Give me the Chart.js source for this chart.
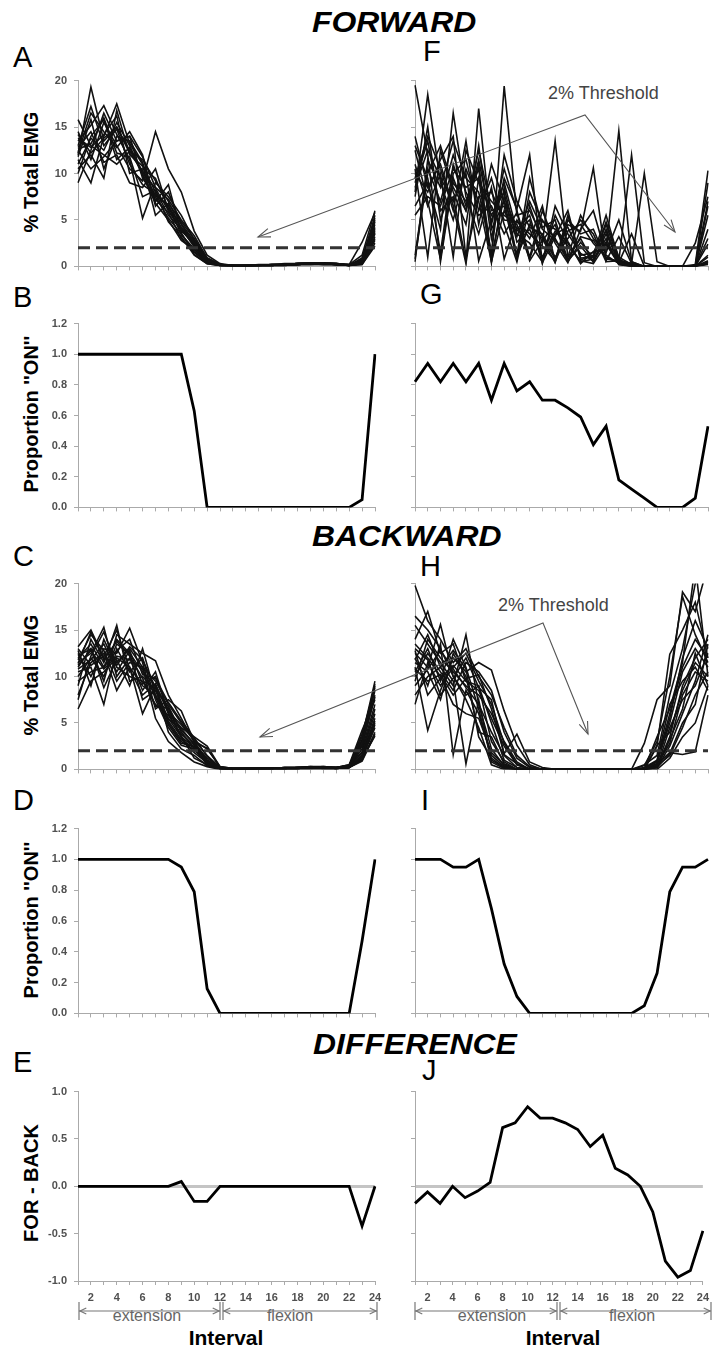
<!DOCTYPE html>
<html>
<head>
<meta charset="utf-8">
<script src="https://cdn.jsdelivr.net/npm/chart.js@4.4.1/dist/chart.umd.min.js"></script>
<style>
    body { margin: 0; background: #fff; }
    #fig { position: relative; width: 715px; height: 1351px; overflow: hidden; font-family: "Liberation Sans", Arial, sans-serif; color: #000; }
    canvas { position: absolute; }
    .sec { position: absolute; font-size: 29px; line-height: 29px; font-weight: bold; font-style: italic; transform: scaleX(1.1); transform-origin: left top; white-space: nowrap; }
    .lab { position: absolute; font-size: 29px; line-height: 29px; }
    .ytitle { position: absolute; width: 220px; text-align: center; font-size: 20px; line-height: 20px; font-weight: bold; transform: rotate(-90deg); white-space: nowrap; }
    .thr { position: absolute; font-size: 18px; line-height: 18px; color: #444; white-space: nowrap; }
    .phase { position: absolute; font-size: 16px; line-height: 16px; color: #666; transform: translateX(-50%); white-space: nowrap; }
    .xt { position: absolute; font-size: 21px; line-height: 21px; font-weight: bold; transform: translateX(-50%); }
    svg { position: absolute; left: 0; top: 0; }
</style>
</head>
<body>
<div id="fig">
    <div class="sec" style="left:312px;top:8px">FORWARD</div>
    <div class="sec" style="left:312px;top:522px">BACKWARD</div>
    <div class="sec" style="left:313px;top:1030px">DIFFERENCE</div>

    <div class="lab" style="left:13px;top:43px">A</div>
    <div class="lab" style="left:423px;top:37px">F</div>
    <div class="lab" style="left:13px;top:283px">B</div>
    <div class="lab" style="left:420px;top:280px">G</div>
    <div class="lab" style="left:13px;top:542px">C</div>
    <div class="lab" style="left:420px;top:552px">H</div>
    <div class="lab" style="left:13px;top:786px">D</div>
    <div class="lab" style="left:421px;top:786px">I</div>
    <div class="lab" style="left:13px;top:1048px">E</div>
    <div class="lab" style="left:422px;top:1056px">J</div>

    <div class="ytitle" style="left:-79px;top:162px">% Total EMG</div>
    <div class="ytitle" style="left:-79px;top:404px">Proportion ''ON''</div>
    <div class="ytitle" style="left:-79px;top:665px">% Total EMG</div>
    <div class="ytitle" style="left:-79px;top:910px">Proportion ''ON''</div>
    <div class="ytitle" style="left:-79px;top:1173px">FOR - BACK</div>

    <div class="thr" style="left:548px;top:84px">2% Threshold</div>
    <div class="thr" style="left:498px;top:596px">2% Threshold</div>

    <div class="phase" style="left:147px;top:1308px">extension</div>
    <div class="phase" style="left:290px;top:1308px">flexion</div>
    <div class="phase" style="left:492px;top:1308px">extension</div>
    <div class="phase" style="left:632px;top:1308px">flexion</div>
    <div class="xt" style="left:226px;top:1327px">Interval</div>
    <div class="xt" style="left:563px;top:1327px">Interval</div>
</div>

<script>
// ---- data ----
const INTERVALS = [1,2,3,4,5,6,7,8,9,10,11,12,13,14,15,16,17,18,19,20,21,22,23,24];
const THRESHOLD = 2;

// A: forward, left column, % total EMG per step cycle
const emgForwardA = [
    [12.0,19.3,13.5,15.0,12.5,10.2,8.4,6.0,4.2,2.6,0.6,0.2,0.1,0.1,0.1,0.2,0.2,0.3,0.3,0.3,0.2,0.1,0.6,4.2],
    [15.8,13.0,12.0,11.0,12.4,11.5,9.2,7.0,4.0,2.2,0.5,0.1,0.0,0.1,0.1,0.1,0.2,0.3,0.4,0.3,0.2,0.1,0.4,3.0],
    [9.0,12.5,16.5,13.5,14.0,9.5,7.5,5.2,3.5,1.6,0.4,0.1,0.1,0.0,0.1,0.1,0.2,0.2,0.3,0.2,0.2,0.1,0.3,5.5],
    [11.5,9.0,14.0,17.5,13.2,11.0,5.5,6.8,4.8,3.0,0.9,0.2,0.1,0.1,0.1,0.2,0.2,0.3,0.3,0.4,0.3,0.2,1.2,6.0],
    [12.8,14.5,11.2,12.0,9.0,8.5,10.5,6.0,3.8,2.5,0.7,0.1,0.1,0.1,0.1,0.1,0.2,0.2,0.3,0.3,0.2,0.1,0.5,3.5],
    [13.5,15.2,17.3,14.2,11.5,5.2,9.0,7.5,5.5,2.8,0.8,0.2,0.1,0.1,0.1,0.1,0.2,0.3,0.4,0.3,0.3,0.1,0.4,4.8],
    [10.5,12.0,9.5,16.8,12.0,10.8,8.0,4.8,3.2,1.2,0.3,0.1,0.0,0.0,0.1,0.1,0.1,0.2,0.2,0.2,0.2,0.1,0.2,2.5],
    [12.2,16.5,14.5,12.8,14.5,12.0,6.5,8.0,4.5,2.4,0.6,0.2,0.1,0.1,0.1,0.1,0.2,0.2,0.3,0.3,0.3,0.1,0.8,5.0],
    [14.5,11.5,15.5,13.0,10.5,9.2,14.5,10.5,8.0,3.8,1.2,0.3,0.1,0.1,0.1,0.2,0.3,0.3,0.4,0.4,0.3,0.2,2.6,5.8],
    [11.0,13.8,12.5,15.5,13.0,10.0,7.2,5.8,3.0,1.5,0.4,0.1,0.1,0.1,0.1,0.1,0.1,0.2,0.3,0.2,0.2,0.1,0.3,2.8],
    [13.0,17.2,13.0,14.8,11.0,8.8,7.8,6.5,4.2,2.1,0.5,0.1,0.1,0.1,0.1,0.2,0.2,0.2,0.3,0.3,0.2,0.1,0.5,4.0],
    [12.5,10.5,11.8,13.5,14.0,11.8,8.5,7.2,5.0,3.3,0.9,0.2,0.1,0.1,0.2,0.2,0.2,0.3,0.3,0.4,0.3,0.2,0.7,3.6],
    [10.0,14.0,15.8,11.5,12.8,9.8,6.8,5.0,2.8,1.8,0.4,0.1,0.0,0.1,0.1,0.1,0.1,0.2,0.2,0.2,0.2,0.1,0.2,2.2],
    [13.8,12.8,14.2,16.2,10.0,10.5,9.5,6.2,4.6,2.7,0.7,0.2,0.1,0.1,0.1,0.1,0.2,0.3,0.3,0.3,0.2,0.1,0.9,5.2],
    [11.8,15.8,10.5,14.0,13.5,11.2,7.0,8.8,3.6,1.3,0.3,0.1,0.1,0.0,0.1,0.1,0.1,0.2,0.2,0.3,0.2,0.1,0.3,3.2],
    [12.6,13.2,16.0,12.2,11.8,7.5,8.2,5.5,4.0,2.3,0.6,0.1,0.1,0.1,0.1,0.1,0.2,0.2,0.3,0.3,0.2,0.1,0.6,4.5],
    [14.2,12.2,13.8,15.0,12.2,10.3,7.6,6.6,3.4,1.9,0.5,0.2,0.1,0.1,0.1,0.1,0.2,0.2,0.3,0.3,0.2,0.1,0.4,3.8]
];

// F: forward, right column
const emgForwardF = [
    [19.5,12.0,0.5,9.5,6.0,11.0,1.0,7.5,4.0,5.5,0.8,3.5,4.2,1.2,1.5,3.8,0.5,0.0,0.0,0.0,0.0,0.0,0.2,10.3],
    [14.0,8.5,11.0,6.5,0.3,9.5,5.5,8.0,1.0,4.5,3.0,0.4,5.0,3.5,4.0,0.8,0.6,0.3,10.0,0.5,0.0,0.0,0.0,0.5],
    [1.2,10.5,7.0,12.0,8.0,5.5,6.5,3.5,5.8,0.6,2.8,4.5,0.5,2.6,0.9,4.8,1.0,0.2,0.0,0.0,0.0,0.0,0.0,6.5],
    [8.0,18.5,9.0,5.0,10.5,7.0,0.5,6.0,3.2,7.0,4.0,2.8,1.0,5.5,3.0,1.5,5.0,0.5,0.0,0.0,0.0,0.0,0.0,1.0],
    [10.5,1.0,12.5,8.0,4.5,13.0,3.0,9.5,6.2,12.0,0.4,3.2,6.0,0.7,1.2,5.5,0.8,0.0,0.0,0.0,0.0,0.0,0.0,4.0],
    [6.5,9.0,4.0,16.5,7.5,3.5,8.5,0.8,5.0,3.0,6.5,0.5,3.8,4.5,2.5,1.0,0.4,3.5,0.0,0.0,0.0,0.0,0.0,0.3],
    [12.5,7.0,0.8,10.0,11.5,6.0,9.5,4.5,0.5,6.5,2.5,13.5,1.0,3.0,0.4,4.0,0.3,0.0,0.0,0.0,0.0,0.0,2.5,7.5],
    [9.0,13.5,6.0,7.5,0.6,17.0,4.0,7.0,3.5,2.5,0.5,5.5,2.7,0.3,1.6,1.8,14.6,0.5,0.0,0.0,0.0,0.0,0.0,0.5],
    [0.5,11.5,8.5,13.5,9.5,8.0,1.5,12.0,7.0,4.2,3.5,1.0,3.0,5.0,3.5,0.5,0.6,12.0,0.4,0.0,0.0,0.0,0.0,5.5],
    [11.0,6.5,10.0,1.0,12.5,9.0,7.0,5.5,4.5,0.8,5.0,3.0,0.6,2.2,0.5,3.0,0.2,0.0,0.0,0.0,0.0,0.0,0.0,0.4],
    [7.5,15.0,5.0,9.0,7.0,10.5,0.7,19.4,5.5,6.0,3.2,0.8,4.5,3.8,10.6,0.6,3.2,0.3,0.0,0.0,0.0,0.0,0.0,9.0],
    [13.0,9.5,1.5,11.0,6.5,12.5,6.0,6.5,0.8,8.0,4.8,4.0,2.5,0.5,0.8,2.6,0.4,0.0,0.0,0.0,0.0,0.0,0.0,1.2],
    [8.5,12.5,9.5,7.0,10.0,0.6,5.0,9.0,3.8,5.0,0.3,6.5,3.5,1.4,0.6,3.5,0.5,0.2,0.0,0.0,0.0,0.0,0.0,3.0],
    [0.8,10.0,13.0,8.5,6.0,11.5,4.5,10.5,6.0,1.0,6.0,2.5,0.4,4.0,6.0,1.2,0.3,0.0,0.0,0.0,0.0,0.0,0.0,0.6],
    [10.0,8.0,11.5,14.0,0.9,7.5,8.0,5.0,4.8,3.5,2.2,0.6,5.5,0.9,1.0,4.5,0.6,0.3,0.0,0.0,0.0,0.0,0.0,2.4],
    [5.5,7.5,6.5,10.5,8.5,9.5,0.4,8.5,2.6,4.0,1.0,3.8,2.2,0.6,0.3,2.4,0.2,0.0,0.0,0.0,0.0,0.0,0.0,0.2],
    [9.5,14.0,10.5,6.0,13.5,4.5,11.0,7.0,1.2,9.5,4.2,5.0,0.7,3.2,2.8,0.9,0.5,0.2,0.0,0.0,0.0,0.0,0.0,7.0]
];

// C: backward, left column
const emgBackwardC = [
    [12.0,13.5,11.0,14.0,12.5,10.5,9.0,6.5,4.2,2.8,1.2,0.2,0.1,0.1,0.1,0.1,0.1,0.2,0.2,0.2,0.2,0.3,2.8,8.5],
    [6.5,9.5,10.5,12.0,11.0,9.0,8.0,5.5,3.5,2.4,0.8,0.1,0.0,0.1,0.1,0.1,0.1,0.1,0.2,0.1,0.1,0.2,1.5,5.0],
    [13.2,15.0,12.0,11.5,13.0,11.0,9.5,7.0,5.0,3.2,1.5,0.2,0.1,0.1,0.1,0.1,0.2,0.2,0.3,0.2,0.2,0.4,3.5,9.5],
    [10.5,11.0,7.0,13.0,10.5,12.0,7.5,4.5,2.6,2.2,0.6,0.1,0.0,0.0,0.1,0.1,0.1,0.1,0.1,0.1,0.1,0.2,1.2,4.5],
    [11.5,12.5,15.3,10.0,12.0,8.5,10.5,6.0,4.5,3.5,2.5,0.3,0.1,0.1,0.1,0.1,0.2,0.2,0.2,0.3,0.2,0.5,4.2,7.5],
    [9.0,14.0,11.5,15.5,9.5,10.0,8.5,5.0,3.0,2.1,0.7,0.1,0.1,0.1,0.1,0.1,0.1,0.1,0.2,0.2,0.1,0.3,1.8,6.0],
    [12.5,10.0,13.0,12.5,15.2,11.5,6.5,7.5,6.3,3.0,1.0,0.2,0.1,0.1,0.1,0.1,0.1,0.2,0.2,0.2,0.2,0.3,2.5,8.0],
    [8.0,11.5,12.5,8.5,11.0,6.0,9.0,4.0,2.2,1.5,0.4,0.1,0.0,0.0,0.1,0.1,0.1,0.1,0.1,0.1,0.1,0.2,0.9,3.8],
    [11.0,13.0,9.5,14.5,13.5,12.5,11.7,8.0,5.5,2.9,2.3,0.2,0.1,0.1,0.1,0.1,0.2,0.2,0.2,0.2,0.2,0.4,3.0,9.0],
    [12.8,9.0,14.0,11.0,10.0,9.5,7.0,5.8,3.8,2.6,0.9,0.1,0.1,0.1,0.1,0.1,0.1,0.1,0.2,0.2,0.1,0.2,1.6,5.5],
    [10.0,12.0,10.0,13.5,12.5,7.5,8.5,6.8,4.0,2.3,0.5,0.1,0.0,0.1,0.1,0.1,0.1,0.1,0.2,0.1,0.1,0.3,2.2,7.0],
    [11.8,14.5,12.8,9.5,11.5,11.0,5.5,3.0,1.8,0.8,0.3,0.0,0.0,0.0,0.0,0.1,0.1,0.1,0.1,0.1,0.1,0.2,1.0,4.0],
    [9.5,10.5,11.0,12.8,14.0,10.2,9.8,7.2,5.2,3.4,1.4,0.2,0.1,0.1,0.1,0.1,0.2,0.2,0.3,0.3,0.2,0.4,3.8,8.8],
    [12.2,13.0,8.8,11.8,9.0,13.0,8.0,5.2,3.2,2.3,0.6,0.1,0.1,0.1,0.1,0.1,0.1,0.1,0.1,0.2,0.1,0.2,1.4,5.2],
    [10.8,11.8,13.5,10.5,12.8,9.2,10.0,6.2,4.8,3.1,2.2,0.3,0.1,0.1,0.1,0.1,0.1,0.2,0.2,0.2,0.2,0.5,2.6,7.8],
    [11.2,12.8,10.8,12.2,11.8,10.8,7.8,4.8,2.8,2.5,0.8,0.1,0.0,0.1,0.1,0.1,0.1,0.1,0.2,0.2,0.1,0.2,1.3,4.8],
    [13.0,11.2,12.2,15.0,10.8,8.0,9.2,6.0,3.6,1.2,0.5,0.1,0.1,0.1,0.1,0.1,0.1,0.1,0.2,0.2,0.1,0.3,1.9,6.5],
    [7.5,12.2,14.8,11.2,13.2,11.8,8.8,5.4,4.4,2.7,1.0,0.2,0.1,0.1,0.1,0.1,0.1,0.2,0.2,0.2,0.2,0.4,3.2,9.2],
    [11.4,14.8,11.8,13.8,12.2,9.8,6.8,6.6,3.4,1.8,0.7,0.1,0.1,0.1,0.1,0.1,0.1,0.1,0.2,0.2,0.1,0.2,1.1,3.6]
];

// H: backward, right column
const emgBackwardH = [
    [19.8,16.0,14.0,11.5,13.0,10.0,8.0,4.5,1.5,0.3,0,0,0,0,0,0,0,0,0.5,1.5,8.0,13.0,20.0,25.0],
    [14.0,17.0,12.5,13.5,9.5,8.5,5.5,2.5,0.5,0,0,0,0,0,0,0,0,0,0,2.5,12.4,15.0,18.0,12.0],
    [12.5,11.0,15.6,10.0,8.0,9.0,3.0,0.8,0,0,0,0,0,0,0,0,0,0,0,0.8,5.0,10.5,13.0,11.0],
    [10.5,13.0,9.5,14.0,11.0,6.5,1.0,0.2,0,0,0,0,0,0,0,0,0,0,0,0.3,3.5,9.0,12.0,14.0],
    [8.0,10.0,11.0,9.0,14.5,7.0,4.0,1.5,0.2,0,0,0,0,0,0,0,0,0,0,3.5,6.5,11.5,22.0,10.0],
    [11.0,4.2,8.5,12.0,10.5,11.5,10.7,6.3,2.6,0.5,0,0,0,0,0,0,0,0,0,0.5,2.8,8.0,10.5,9.5],
    [13.5,12.0,10.0,7.0,6.0,5.5,1.8,0.5,0,0,0,0,0,0,0,0,0,0,0,0.2,4.5,7.5,9.0,12.5],
    [9.5,14.0,12.0,10.5,9.0,8.0,6.0,3.0,0.8,0,0,0,0,0,0,0,0,0,0.4,3.0,10.0,18.6,14.5,11.5],
    [12.0,9.0,13.5,1.6,8.5,6.0,1.5,0.3,0,0,0,0,0,0,0,0,0,0,0,0.6,5.5,12.0,16.0,13.0],
    [7.0,11.5,9.0,11.0,12.5,9.5,7.0,2.8,0.5,0.1,0,0,0,0,0,0,0,0,0.2,1.0,7.0,9.5,11.0,8.5],
    [15.5,13.5,11.5,9.5,0.6,7.5,0.8,0.1,0,0,0,0,0,0,0,0,0,0,0,0.4,1.5,4.5,8.0,10.5],
    [11.5,10.5,7.5,12.5,10.0,4.0,3.5,0.6,0,0,0,0,0,0,0,0,0,0,0,0.3,3.2,6.5,12.5,9.0],
    [10.0,12.5,10.5,8.5,11.5,10.5,8.5,4.0,1.2,0.2,0,0,0,0,0,0,0,0,2.8,7.5,9.0,19.1,17.0,22.0],
    [16.5,15.0,13.0,10.0,7.5,4.5,0.5,0,0,0,0,0,0,0,0,0,0,0,0,0.2,1.7,5.0,7.0,13.5],
    [12.8,8.0,9.8,11.2,9.5,9.0,5.0,1.0,0.2,0,0,0,0,0,0,0,0,0,0,2.6,4.0,8.5,11.5,10.0],
    [9.0,10.8,12.8,10.8,8.8,7.0,2.2,0.4,0,0,0,0,0,0,0,0,0,0,0,0.6,1.8,1.6,1.9,8.0],
    [13.0,11.8,8.0,9.8,12.0,8.8,7.5,1.6,0.6,0,0,0,0,0,0,0,0,0,0.1,0.9,6.0,11.0,14.0,12.0],
    [11.8,14.5,11.0,12.8,10.8,3.5,1.2,0.2,0,0,0,0,0,0,0,0,0,0,0,0.2,2.5,6.0,9.5,14.5],
    [10.8,9.5,10.2,8.0,9.8,10.2,6.5,1.7,3.8,0.8,0.2,0,0,0,0,0,0,0,0,0,1.2,3.5,5.0,9.0]
];

// proportion of subjects above threshold
const onForwardB  = [1,1,1,1,1,1,1,1,1,0.63,0,0,0,0,0,0,0,0,0,0,0,0,0.05,1];
const onForwardG  = [0.82,0.94,0.82,0.94,0.82,0.94,0.70,0.94,0.76,0.82,0.70,0.70,0.65,0.59,0.41,0.53,0.18,0.12,0.06,0,0,0,0.06,0.53];
const onBackwardD = [1,1,1,1,1,1,1,1,0.95,0.79,0.16,0,0,0,0,0,0,0,0,0,0,0,0.47,1];
const onBackwardI = [1,1,1,0.95,0.95,1,0.68,0.32,0.11,0,0,0,0,0,0,0,0,0,0.05,0.26,0.79,0.95,0.95,1];

// forward minus backward
const diffE = [0,0,0,0,0,0,0,0,0.05,-0.16,-0.16,0,0,0,0,0,0,0,0,0,0,0,-0.42,0];
const diffJ = [-0.18,-0.06,-0.18,0,-0.12,-0.05,0.04,0.62,0.67,0.84,0.72,0.72,0.67,0.60,0.42,0.54,0.19,0.12,0,-0.27,-0.79,-0.96,-0.89,-0.47];

// ---- layout / style ----
const AXIS_GREY = '#aaaaaa';
const TICK_GREY = '#505050';
const ZERO_GREY = '#c4c4c4';
Chart.defaults.font.family = "'Liberation Sans', Arial, sans-serif";

const fig = document.getElementById('fig');
const colLeft  = { x: 0,   w: 390, axisW: 78, padR: 15, labels: true };
const colRight = { x: 400, w: 315, axisW: 15, padR: 7,  labels: false };

const emgAxis  = { min: 0,  max: 20,  step: 5,   fmt: v => String(v) };
const propAxis = { min: 0,  max: 1.2, step: 0.2, fmt: v => v.toFixed(1) };
const diffAxis = { min: -1, max: 1,   step: 0.5, fmt: v => v.toFixed(1), zero: true };

function traces(rows) {
    return rows.map(r => ({ data: r, borderColor: '#111', borderWidth: 1.6 }));
}
function thresholdLine() {
    return { data: INTERVALS.map(() => THRESHOLD), borderColor: '#333', borderWidth: 3, borderDash: [12, 6] };
}
function thick(values) {
    return [{ data: values, borderColor: '#000', borderWidth: 2.8 }];
}

function panel(col, top, bottom, yAxis, datasets, showX) {
    const xh = showX ? 26 : 10;
    const cv = document.createElement('canvas');
    cv.width = col.w;
    cv.height = bottom - top + 8 + xh;
    cv.style.left = col.x + 'px';
    cv.style.top = (top - 8) + 'px';
    fig.appendChild(cv);

    let yGrid = { drawOnChartArea: false, tickLength: 4, color: AXIS_GREY };
    if (yAxis.zero) {
        yGrid = {
            drawOnChartArea: true, tickLength: 4, tickColor: AXIS_GREY, tickWidth: 1,
            color: c => (c.tick && c.tick.value === 0) ? ZERO_GREY : 'rgba(0,0,0,0)',
            lineWidth: c => (c.tick && c.tick.value === 0) ? 3 : 1
        };
    }

    return new Chart(cv, {
        type: 'line',
        data: { labels: INTERVALS, datasets: datasets },
        options: {
            responsive: false,
            animation: false,
            events: [],
            layout: { padding: { top: 8, right: col.padR, left: 0, bottom: 0 } },
            plugins: { legend: { display: false }, tooltip: { enabled: false } },
            elements: { point: { radius: 0 }, line: { tension: 0 } },
            scales: {
                x: {
                    grid: { drawOnChartArea: false, tickLength: 4, color: AXIS_GREY },
                    border: { color: AXIS_GREY },
                    ticks: {
                        autoSkip: false, maxRotation: 0, minRotation: 0, padding: 6,
                        color: TICK_GREY, font: { size: 11, weight: 'bold' },
                        callback: (v, i) => (showX && INTERVALS[i] % 2 === 0) ? String(INTERVALS[i]) : ''
                    },
                    afterFit: s => { s.height = xh; }
                },
                y: {
                    min: yAxis.min, max: yAxis.max,
                    grid: yGrid,
                    border: { color: AXIS_GREY },
                    ticks: {
                        stepSize: yAxis.step, padding: 7,
                        color: TICK_GREY, font: { size: 11, weight: 'bold' },
                        callback: v => col.labels ? yAxis.fmt(v) : ''
                    },
                    afterFit: s => { s.width = col.axisW; }
                }
            }
        }
    });
}

// forward
panel(colLeft,  75, 270, emgAxis, [thresholdLine()].concat(traces(emgForwardA)), false);
panel(colRight, 75, 270, emgAxis, [thresholdLine()].concat(traces(emgForwardF)), false);
panel(colLeft,  318, 511, propAxis, thick(onForwardB), false);
panel(colRight, 318, 511, propAxis, thick(onForwardG), false);
// backward
panel(colLeft,  578, 773, emgAxis, [thresholdLine()].concat(traces(emgBackwardC)), false);
panel(colRight, 578, 773, emgAxis, [thresholdLine()].concat(traces(emgBackwardH)), false);
panel(colLeft,  823, 1017, propAxis, thick(onBackwardD), false);
panel(colRight, 823, 1017, propAxis, thick(onBackwardI), false);
// difference
panel(colLeft,  1086, 1281, diffAxis, thick(diffE), true);
panel(colRight, 1086, 1281, diffAxis, thick(diffJ), true);

// ---- annotation arrows (svg overlay) ----
const NS = 'http://www.w3.org/2000/svg';
const svg = document.createElementNS(NS, 'svg');
svg.setAttribute('width', 715);
svg.setAttribute('height', 1351);
fig.appendChild(svg);

function path(d, color, w) {
    const p = document.createElementNS(NS, 'path');
    p.setAttribute('d', d);
    p.setAttribute('fill', 'none');
    p.setAttribute('stroke', color);
    p.setAttribute('stroke-width', w);
    svg.appendChild(p);
}
function head(x1, y1, x2, y2, len, ang) {
    const a = Math.atan2(y2 - y1, x2 - x1);
    const p1 = [x2 - len * Math.cos(a - ang), y2 - len * Math.sin(a - ang)];
    const p2 = [x2 - len * Math.cos(a + ang), y2 - len * Math.sin(a + ang)];
    return `M${p1[0]},${p1[1]} L${x2},${y2} L${p2[0]},${p2[1]}`;
}
function threshArrow(apex, left, right) {
    path(`M${left[0]},${left[1]} L${apex[0]},${apex[1]} L${right[0]},${right[1]}`, '#555', 1.1);
    path(head(apex[0], apex[1], left[0], left[1], 13, 0.35), '#555', 1.1);
    path(head(apex[0], apex[1], right[0], right[1], 13, 0.35), '#555', 1.1);
}
threshArrow([585, 115], [258, 237], [675, 232]);
threshArrow([543, 623], [260, 737], [588, 734]);

function phaseBar(x0, xm1, xm2, x1) {
    const y = 1311, c = '#777';
    [x0, xm1, xm2, x1].forEach(x => path(`M${x},1302 L${x},1320`, c, 1.2));
    path(`M${x0},${y} L${xm1},${y} M${xm2},${y} L${x1},${y}`, c, 1.2);
    path(head(xm1, y, x0 + 1, y, 7, 0.45), c, 1.2);
    path(head(x0, y, xm1 - 1, y, 7, 0.45), c, 1.2);
    path(head(x1, y, xm2 + 1, y, 7, 0.45), c, 1.2);
    path(head(xm2, y, x1 - 1, y, 7, 0.45), c, 1.2);
}
phaseBar(79, 220, 223, 377);
phaseBar(415, 557, 560, 711);
</script>
</body>
</html>
